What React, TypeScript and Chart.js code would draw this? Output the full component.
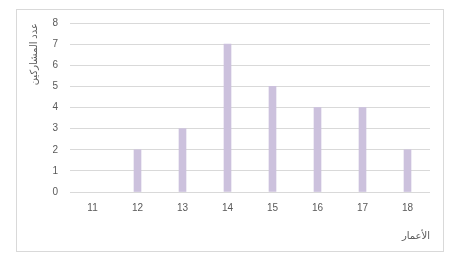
import React, { useEffect, useRef } from "react";
import { Chart, registerables } from "chart.js";

Chart.register(...registerables);

const categories = ["11", "12", "13", "14", "15", "16", "17", "18"];
const values = [0, 2, 3, 7, 5, 4, 4, 2];
const yTitle = "عدد المشاركين";
const xTitle = "الأعمار";

const FONT = '"Liberation Sans", "DejaVu Sans", sans-serif';

export default function App() {
  const ref = useRef<HTMLCanvasElement | null>(null);
  useEffect(() => {
    document.body.style.margin = "0";
    const chart = new Chart(ref.current as HTMLCanvasElement, {
      type: "bar",
      data: {
        labels: categories,
        datasets: [
          {
            data: values.map((v) => (v === 0 ? null : v)),
            backgroundColor: "#ccc1dd",
            barThickness: 7,
          },
        ],
      },
      options: {
        animation: false,
        responsive: false,
        maintainAspectRatio: false,
        layout: { padding: { left: 16, right: 22, top: 23, bottom: 18 } },
        plugins: { legend: { display: false }, tooltip: { enabled: false } },
        scales: {
          x: {
            grid: { display: false },
            border: { display: false },
            ticks: { color: "#595959", font: { family: FONT, size: 10 }, padding: 2 },
            title: {
              display: true,
              text: xTitle,
              align: "end",
              color: "#595959",
              font: { family: FONT, size: 10 },
              padding: { top: 0, bottom: 11 },
            },
            afterFit: (s: any) => {
              s.height = 61;
            },
          },
          y: {
            min: 0,
            max: 8,
            ticks: { stepSize: 1, color: "#595959", font: { family: FONT, size: 10 }, padding: 12 },
            grid: { color: "#d9d9d9", drawTicks: false },
            border: { display: false },
            title: {
              display: true,
              text: yTitle,
              align: "end",
              color: "#595959",
              font: { family: FONT, size: 10 },
              padding: { top: 12, bottom: 0 },
            },
            afterFit: (s: any) => {
              s.width = 54;
            },
          },
        },
      },
    });
    return () => chart.destroy();
  }, []);
  return (
    <div style={{ position: "relative", width: 452, height: 271, background: "#fff" }}>
      <div
        style={{
          position: "absolute",
          left: 16,
          top: 9,
          width: 428,
          height: 243,
          border: "1px solid #d9d9d9",
          boxSizing: "border-box",
        }}
      />
      <canvas ref={ref} width={452} height={271} style={{ position: "absolute", left: 0, top: 0, width: 452, height: 271 }} />
    </div>
  );
}
